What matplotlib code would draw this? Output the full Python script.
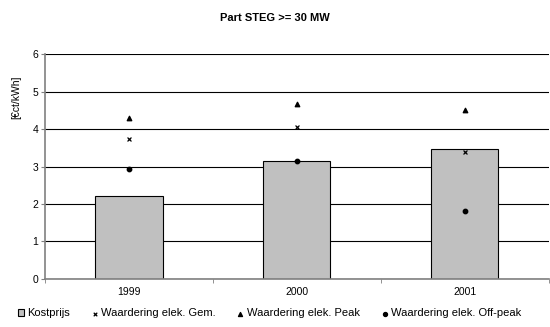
import matplotlib.pyplot as plt
import numpy as np

plt.rcParams['font.family'] = ['Liberation Sans', 'DejaVu Sans']

years = ['1999', '2000', '2001']
kostprijs = [2.21, 3.14, 3.48]
waardering_gem = [3.73, 4.06, 3.40]
waardering_peak = [4.31, 4.67, 4.50]
waardering_offpeak = [2.93, 3.16, 1.82]

x = np.arange(len(years))

fig = plt.figure(figsize=(5.5, 3.27), dpi=100)
ax = fig.add_axes([0.0818, 0.147, 0.916, 0.687])

# horizontal gridlines at every unit
ax.set_ylim(0, 6)
ax.set_yticks(np.arange(0, 7, 1))
ax.grid(axis='y', color='black', linewidth=0.8)
ax.set_axisbelow(True)

b = ax.bar(x, kostprijs, width=0.4, color='#c0c0c0', edgecolor='black', linewidth=0.8,
           label='Kostprijs', zorder=2)
s1 = ax.scatter(x, waardering_gem, marker='x', s=8, color='black', linewidths=0.9,
                label='Waardering elek. Gem.', zorder=3)
s2 = ax.scatter(x, waardering_peak, marker='^', s=10, color='black',
                label='Waardering elek. Peak', zorder=3)
s3 = ax.scatter(x, waardering_offpeak, marker='o', s=10, color='black',
                label='Waardering elek. Off-peak', zorder=3)

ax.set_xlim(-0.5, 2.5)
ax.set_xticks(x)
ax.set_xticklabels(years, fontsize=7.5)
ax.set_xticks([-0.5, 0.5, 1.5, 2.5], minor=True)
ax.tick_params(axis='x', which='major', length=0, pad=6)
ax.tick_params(axis='x', which='minor', length=3, color='#808080')
ax.tick_params(axis='y', labelsize=7.5, length=3, color='#808080', pad=2)

for side in ['top', 'right']:
    ax.spines[side].set_visible(False)
for side in ['left', 'bottom']:
    ax.spines[side].set_color('#808080')
    ax.spines[side].set_linewidth(1.2)

ax.set_ylabel('[€ct/kWh]', fontsize=7.5)
ax.yaxis.set_label_coords(-0.048, 0.808)

fig.suptitle('Part STEG >= 30 MW', fontsize=8, fontweight='bold', y=0.945, va='center')

fig.legend(handles=[b, s1, s2, s3], loc='center', bbox_to_anchor=(0.49, 0.042), ncol=4,
           frameon=False, fontsize=8, handlelength=0.6, handleheight=0.6,
           handletextpad=0.3, columnspacing=1.9, markerscale=0.9)

fig.savefig('out.png', dpi=100)
